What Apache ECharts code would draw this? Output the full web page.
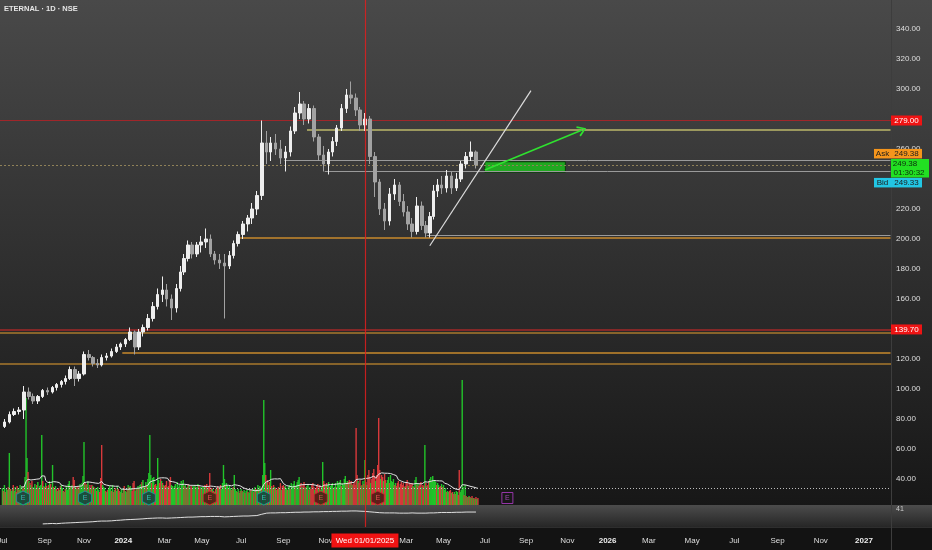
<!DOCTYPE html>
<html><head><meta charset="utf-8">
<script src="https://cdn.jsdelivr.net/npm/echarts@6/dist/echarts.min.js"></script>
<style>html,body{margin:0;padding:0;background:#141414;overflow:hidden}#c{width:932px;height:550px}</style>
</head><body><div id="c"></div>
<script>
// ---------------- DATA ----------------
const title = 'ETERNAL · 1D · NSE';
const firstDay = '2023-06-28';
const dayCount = 907;
const weekStart = '2023-07-03';
const holidays = ['2023-06-29','2023-08-15','2023-09-19','2023-10-02','2023-10-24','2023-11-14','2023-11-27','2023-12-25',
'2024-01-22','2024-01-26','2024-03-08','2024-03-25','2024-03-29','2024-04-11','2024-04-17','2024-05-01','2024-05-20','2024-06-17','2024-07-17','2024-08-15','2024-10-02','2024-11-15','2024-11-20','2024-12-25',
'2025-02-26','2025-03-14','2025-03-31','2025-04-10','2025-04-14','2025-04-18','2025-05-01','2025-08-15','2025-08-27','2025-10-02','2025-10-21','2025-10-22','2025-11-05','2025-12-25'];
const monthNames = ['Jan','Feb','Mar','Apr','May','Jun','Jul','Aug','Sep','Oct','Nov','Dec'];

// weekly OHLC from week of 2023-07-03
const wOpen = [75,78,83,85,86,98,95,92,95,99, 98,101,103,105,107,113,107,110,123,121, 117,116,121,122,125,128,130,133,138,128,
 138,141,147,155,163,166,160,154,167,178, 187,196,190,196,198,200,190,186,184,182, 189,197,203,210,214,220,229,264,258,264,
 260,254,258,272,284,290,280,287,268,256, 250,258,265,274,287,296,294,286,276,280, 255,238,220,212,230,236,225,218,210,205,
 222,209,204,215,232,236,234,242,234,240, 250,255,258];
const wHigh = [80,85,87,88,102,101,97,96,100,101, 102,104,106,109,115,115,112,125,126,122, 120,123,124,127,130,131,134,141,139,140,
 143,150,158,167,175,170,163,170,182,190, 199,198,198,202,207,203,192,190,190,192, 199,205,212,216,224,232,279,272,268,270,
 266,262,275,288,298,292,290,289,270,262, 260,268,276,290,300,305,297,288,284,282, 258,240,224,234,240,238,230,222,214,228,
 225,212,218,236,240,242,246,245,244,252, 258,265,259];
const wLow = [74,77,82,83,80,93,90,90,94,96, 97,99,101,103,106,102,105,109,119,115, 114,115,119,121,124,126,128,132,123,126,
 135,139,145,153,158,155,146,151,165,176, 185,187,188,191,194,188,183,180,147,180, 187,195,200,205,210,216,226,250,252,256,
 250,245,255,270,280,276,277,265,252,245, 243,255,262,272,284,290,282,272,272,250, 228,216,206,209,226,222,215,206,201,203,
 206,201,201,213,228,230,231,230,232,238, 247,252,247];
const wClose = [78,83,85,86,98,95,92,95,99,98, 101,103,105,107,113,107,110,123,121,117, 116,121,122,125,128,130,133,138,128,138,
 141,147,155,163,166,160,154,167,178,187, 196,190,196,198,200,190,186,184,182,189, 197,203,210,214,220,229,264,258,264,260,
 254,258,272,284,290,280,287,268,256,250, 258,265,274,287,296,294,286,276,280,255, 238,220,212,230,236,225,218,210,205,222,
 209,204,215,232,236,234,242,234,240,250, 255,258,249.38];

// daily volume (millions of shares) grouped by week; negative = down day
const volDays = [
[34,-28,40,-26,32],[30,-36,104,-32,28],[32,-40,28,36,-26],[-38,34,-30,40,28],[36,-32,-38,56,214],
[94,-66,48,-44,40],[-48,36,-34,42],[34,-40,46,-34,38],[40,140,-48,38,-36],[44,-38,34,-40,48],
[-42,36,80,-36,34],[38,-32,28,-34],[30,-38,40,34,-28],[26,-32,38,30],[42,48,-36,36,40],
[-56,-50,38,34,-36],[32,-38,42,36],[44,58,126,-44,40],[-42,48,36,-40,34],[-40,38,-36,32],
[34,-28,36,30,-26],[-54,-120,40,36],[34,-28,26,-30,32],[38,34,-28,40,-26],[30,-34,28,38,-32],
[-28,26,32,-24],[34,-38,28,26,-30],[40,-36,38,34,-28],[-44,-48,28,34,-32],[38,-34,40],
[42,-46,50,38,-36],[46,-40,52,64,140],[60,-44,54,56,-40],[-42,38,94,50,-44],[-52,48,-44,40,-38],
[-40,-48,36,-38],[-50,-56,40,38,34],[38,42,-34,46,36],[40,-34,48],[44,50,-38,40,-34],
[36,-42,40,34],[-38,-34,38,36],[40,-36,36,42,-38],[-34,36,-32,36],[36,-40,38,-42,34],
[-36,-64,30,-34,32],[-28,26,-32,34],[-38,-34,36,-40,32],[44,80,52,-40,44],[38,-32,40,34,-30],
[34,-36,60,32],[28,-26,32,24,-28],[32,-28,26,30,-24],[28,30,-26,24,30],[-30,28,32,-26],
[36,-32,30,40,-28],[38,34,-32,60,210],[84,-60,44,-50,40],[-46,70,-38,34],[-40,36,-34,30,-32],
[-36,34,-44,30,-38],[-40,-36,38,34,-30],[36,40,-32,44,38],[42,48,-36,40,46],[50,56,-40,-44,36],
[-40,-46,34,-36],[38,42,-30,36,-32],[-40,-44,-36,30,-34],[-38,-42,34,-40,30],[36,86,-48,-42,38],
[-44,40,46,-36,38],[40,44,-34,36],[44,-36,48,42],[46,50,-38,44,40],[52,58,-44,48,-46],
[-50,44,-48,40,-42],[-46,-40,-154,-60,48],[-44,-50,38,-40],[48,-42,90,-46,40],[-60,-70,-56,44,-52],
[-64,-72,-58,48,-60],[-80,-174,-70,52,-60],[-56,48,-62,-50,44],[50,56,-44,60,48],[46,52,-40,44,-38],
[-44,-48,36,-42,-46],[-40,-44,36,-38],[-46,-50,38,-44,-42],[-40,-44,38,-36],[50,56,-40,44,-38],
[-42,-46,36,-40,-38],[120,-44,38,-40],[-48,52,56,46],[58,50,48],[46,-40,44,40,-36],
[-38,42,-36,40],[30,34,-26,28,26],[-28,-30,24,-26,-22],[26,-22,28,26,-20],[-70,26,30,250,36],
[-20,40,-18,16,-16],[18,-16,14,-18,14],[-14,12,-16,12,-14]];

// lower indicator pane (weekly), starting at week 8
const indStartWeek = 8;
const indicator = [14,15,16,15,17,18,19,20,21,22,23,24,26, 27,27,28,30,31,33,34,35,36,37,39,40,41,
 41,40,41,42,43,44,45,45,46,47,47,48,48, 48,46,47,48,49,50,50,51,52,58,
 63,64,64,65,65,66,67,67,68,68,69,69,70,70, 71,71,72,72,73,73,72,71,
 69,67,65,64,64,64,63,63,63,64,63,63, 63,64,64,65,66,66,66,67,67,68,68,68];
const indLabel = '41';

// visible price-scale labels (280, 240, 140 are covered by tags)
const priceTicks = [40,60,80,100,120,160,180,200,220,260,300,320,340];

// crosshair & quotes
const crossDate = '2025-01-01';
const crossPrice = 279.00;
const alertPrice = 139.70;
const lastPrice = 249.38, askPrice = 249.38, bidPrice = 249.33;
const countdown = '01:30:32';

// drawings (prices)
const fullLevels = [137.5, 116.5];
const goldRayPrices = [273.1, 200.5, 124.2];
const goldRayStarts = ['2024-10-07','2024-06-28','2023-12-29'];
const grayRayPrices = [252.6, 244.9, 202.2];
const grayRayStarts = ['2024-09-03','2024-10-31','2025-04-03'];
const trendDates = ['2025-04-08','2025-09-08'];
const trendPrices = [195.5, 298.9];
const arrowDates = ['2025-07-01','2025-11-25'];
const arrowPrices = [246.0, 272.7];
const boxDates = ['2025-07-01','2025-10-30'];
const boxPrices = [251.5, 244.5];

// earnings events
const earnDates = ['2023-08-01','2023-11-02','2024-02-08','2024-05-14','2024-08-02','2024-10-25','2025-01-20','2025-08-01'];
const earnKind = ['beat','beat','beat','miss','beat','miss','miss','next'];

// ---------------- BUILD ----------------
const cats = [];
{
  const d = new Date(firstDay + 'T00:00:00Z');
  while (cats.length < dayCount) {
    const wd = d.getUTCDay(); const s = d.toISOString().slice(0,10);
    if (wd !== 0 && wd !== 6 && !(s < '2026-01-01' && holidays.includes(s))) cats.push(s);
    d.setUTCDate(d.getUTCDate() + 1);
  }
}
const idxOf = s => cats.indexOf(s);
const base = Date.parse(weekStart);
const weekIdx = [];
cats.forEach((s, i) => {
  const w = Math.floor((Date.parse(s) - base) / (7 * 864e5));
  if (w >= 0 && w < wOpen.length) (weekIdx[w] = weekIdx[w] || []).push(i);
});
const weekCenter = w => weekIdx[w][Math.floor((weekIdx[w].length - 1) / 2)];

const candleData = wOpen.map((o, w) => [weekCenter(w), o, wClose[w], wLow[w], wHigh[w]]);

const GREEN = '#22c42a', RED = '#d8393b';
const volData = [], volSeq = [];
volDays.forEach((arr, w) => {
  arr.forEach((v, k) => {
    const i = weekIdx[w][k];
    if (i === undefined) return;
    volData.push({ value: [i, Math.abs(v)], itemStyle: { color: v > 0 ? GREEN : RED } });
    volSeq.push([i, Math.abs(v)]);
  });
});
const maData = [];
for (let k = 19; k < volSeq.length; k++) {
  let s = 0; for (let j = k - 19; j <= k; j++) s += volSeq[j][1];
  maData.push([volSeq[k][0], s / 20]);
}
const maLast = maData[maData.length - 1][1];

const indData = indicator.map((v, k) => [weekCenter(indStartWeek + k), v]);

const FONT = 'Liberation Sans';
const earnData = earnDates.map((d, k) => {
  const kind = earnKind[k];
  const sty = kind === 'beat' ? { fill: '#0f3d40', stroke: '#1f9ea3', txt: '#3fd0d0' }
            : kind === 'miss' ? { fill: '#4a1212', stroke: '#c8302f', txt: '#f06060' }
            : { fill: 'rgba(0,0,0,0)', stroke: '#b43ccc', txt: '#c050d8' };
  return {
    value: [idxOf(d), 14],
    symbol: kind === 'next' ? 'rect' : 'path://M6,0 L12,3 L12,10 L6,13 L0,10 L0,3 Z',
    symbolSize: kind === 'next' ? [11, 11] : [13, 14],
    itemStyle: { color: sty.fill, borderColor: sty.stroke, borderWidth: 1 },
    label: { show: true, formatter: 'E', color: sty.txt, fontSize: 7, fontFamily: FONT }
  };
});

const lastCat = cats[cats.length - 1];
const mlData = [
  { yAxis: crossPrice, lineStyle: { color: '#a0262a', width: 1, type: 'solid' } },
  { yAxis: alertPrice, lineStyle: { color: '#a32828', width: 1.5, type: 'solid' } },
  ...fullLevels.map(p => ({ yAxis: p, lineStyle: { color: '#a8792c', width: 1.5, type: 'solid' } })),
  { yAxis: lastPrice, lineStyle: { color: '#8f8158', width: 1, type: [2, 2] } },
  ...goldRayPrices.map((p, k) => {
    const c = k === 0 ? '#bdb86a' : '#c98a2c';
    return [{ coord: [goldRayStarts[k], p], lineStyle: { color: c, width: 1.5, type: 'solid' } }, { coord: [lastCat, p] }];
  }),
  ...grayRayPrices.map((p, k) => [{ coord: [grayRayStarts[k], p], lineStyle: { color: '#9a9a9a', width: 1, type: 'solid' } }, { coord: [lastCat, p] }]),
  [{ coord: [trendDates[0], trendPrices[0]], lineStyle: { color: '#dcdcdc', width: 1.2, type: 'solid' } }, { coord: [trendDates[1], trendPrices[1]] }],
  [{ coord: [arrowDates[0], arrowPrices[0]], lineStyle: { color: '#2fe22f', width: 1.6, type: 'solid' } },
   { coord: [arrowDates[1], arrowPrices[1]], symbol: 'path://M5,0 L10,9 L8.6,10 L5,3 L1.4,10 L0,9 Z', symbolSize: [11, 9] }]
];

const axisTxt = '#dedede';
const gridBase = { left: 0, right: 41, outerBoundsMode: 'none', containLabel: false };
const xBase = { type: 'category', data: cats, boundaryGap: true, axisLine: { show: false }, axisTick: { show: false }, splitLine: { show: false } };

const showLbl = cats.map((s, i) => i > 0 && s.slice(5, 7) !== cats[i - 1].slice(5, 7) && (+s.slice(5, 7)) % 2 === 1);

const option = {
  animation: false,
  grid: [
    Object.assign({ top: 0, height: 527 }, gridBase),
    Object.assign({ top: 380, height: 125 }, gridBase),
    Object.assign({ top: 505, height: 22 }, gridBase)
  ],
  xAxis: [
    Object.assign({ gridIndex: 0, axisLabel: { show: false } }, xBase),
    Object.assign({ gridIndex: 1, axisLabel: { show: false } }, xBase),
    Object.assign({ gridIndex: 2, axisLabel: {
      show: true, interval: (i) => showLbl[i], margin: 10, color: axisTxt, fontSize: 8, fontFamily: FONT,
      formatter: (v) => { const m = +v.slice(5, 7); return m === 1 ? '{y|' + v.slice(0, 4) + '}' : monthNames[m - 1]; },
      rich: { y: { fontWeight: 'bold', fontSize: 8, color: '#ededed', fontFamily: FONT } }
    } }, xBase)
  ],
  yAxis: [
    { gridIndex: 0, type: 'value', position: 'right', min: 8, max: 359.3333, splitLine: { show: false },
      axisLine: { show: false }, axisTick: { show: false },
      axisLabel: { customValues: priceTicks, formatter: v => v.toFixed(2), color: axisTxt, fontSize: 8, fontFamily: FONT, margin: 5 } },
    { gridIndex: 1, type: 'value', min: 0, max: 250, show: false },
    { gridIndex: 2, type: 'value', min: 0, max: 100, show: false }
  ],
  series: [
    { type: 'candlestick', xAxisIndex: 0, yAxisIndex: 0, data: candleData, encode: { x: 0, y: [1, 2, 3, 4] },
      barWidth: 3, z: 4,
      itemStyle: { color: '#eeeeee', color0: '#a2a2a2', borderColor: '#eeeeee', borderColor0: '#a2a2a2', borderWidth: 1 },
      markLine: { silent: true, symbol: 'none', label: { show: false }, data: mlData, z: 3 },
      markArea: { silent: true, data: [[{ coord: [boxDates[0], boxPrices[0]] }, { coord: [boxDates[1], boxPrices[1]] }]],
        itemStyle: { color: '#21a821', borderColor: '#0c3a0c', borderWidth: 1 } } },
    { type: 'bar', xAxisIndex: 1, yAxisIndex: 1, data: volData, barWidth: 1.4, z: 2 },
    { type: 'line', xAxisIndex: 1, yAxisIndex: 1, data: maData, showSymbol: false, z: 3,
      lineStyle: { color: '#e4e4e4', width: 1 },
      markLine: { silent: true, symbol: 'none', label: { show: false },
        data: [{ yAxis: maLast, lineStyle: { color: '#bdbdbd', width: 1, type: [1, 2] } }] } },
    { type: 'scatter', xAxisIndex: 1, yAxisIndex: 1, data: earnData, z: 5 },
    { type: 'line', xAxisIndex: 2, yAxisIndex: 2, data: indData, showSymbol: false, z: 3,
      lineStyle: { color: '#e0e0e0', width: 1 } }
  ]
};

const chart = echarts.init(document.getElementById('c'), null, { width: 932, height: 550 });
chart.setOption(option);

// ---------- overlays (positions from the library's scales) ----------
const yP = p => chart.convertToPixel({ yAxisIndex: 0 }, p);
const xP = i => chart.convertToPixel({ xAxisIndex: 0 }, i);
const g = [];
const lin = (c1, c2) => ({ type: 'linear', x: 0, y: 0, x2: 0, y2: 1, colorStops: [{ offset: 0, color: c1 }, { offset: 1, color: c2 }] });
g.push({ type: 'rect', z: -10, silent: true, shape: { x: 0, y: 0, width: 932, height: 527 }, style: { fill: lin('#494949', '#151515') } });
g.push({ type: 'rect', z: -9, silent: true, shape: { x: 0, y: 505, width: 932, height: 22 }, style: { fill: lin('#4c4c4c', '#262626') } });
g.push({ type: 'rect', z: -9, silent: true, shape: { x: 0, y: 527, width: 932, height: 23 }, style: { fill: '#131313' } });
g.push({ type: 'line', z: -8, silent: true, shape: { x1: 0, y1: 527.5, x2: 932, y2: 527.5 }, style: { stroke: '#2e2e2e', lineWidth: 1 } });
g.push({ type: 'line', z: -8, silent: true, shape: { x1: 891.5, y1: 0, x2: 891.5, y2: 550 }, style: { stroke: '#3d3d3d', lineWidth: 1 } });
g.push({ type: 'text', z: 50, style: { text: title, x: 4, y: 9, fill: '#e6e6e6', font: 'bold 7.5px ' + FONT, verticalAlign: 'middle' } });

const cx = xP(idxOf(crossDate));
const cxs = Math.round(cx) + 0.5;
g.push({ type: 'line', z: 40, silent: true, shape: { x1: cxs, y1: 0, x2: cxs, y2: 527 }, style: { stroke: '#e01e1e', lineWidth: 1.2, opacity: 0.85 } });

function box(x, y, w, h, fill, text, color) {
  g.push({ type: 'rect', z: 60, shape: { x, y, width: w, height: h }, style: { fill } });
  if (text) g.push({ type: 'text', z: 61, style: { text, x: x + w / 2, y: y + h / 2 + 0.5, fill: color, font: '8px ' + FONT, align: 'center', verticalAlign: 'middle' } });
}
let y = yP(crossPrice); box(891, y - 5, 31, 10, '#f01313', crossPrice.toFixed(2), '#ffffff');
y = yP(alertPrice); box(891, y - 5, 31, 10, '#ee1414', alertPrice.toFixed(2), '#ffffff');
const yl = yP(lastPrice);
const gTop = yl - 6;
box(874, gTop - 10, 17, 9.5, '#f5951c', 'Ask', '#1b1b1b');
box(891, gTop - 10, 31, 9.5, '#f5951c', askPrice.toFixed(2), '#1b1b1b');
g.push({ type: 'rect', z: 60, shape: { x: 891, y: gTop, width: 38, height: 18.5 }, style: { fill: '#22e022' } });
g.push({ type: 'text', z: 61, style: { text: lastPrice.toFixed(2), x: 905, y: gTop + 5, fill: '#0d2a0d', font: '8px ' + FONT, align: 'center', verticalAlign: 'middle' } });
g.push({ type: 'text', z: 61, style: { text: countdown, x: 909, y: gTop + 13.5, fill: '#0d2a0d', font: '8px ' + FONT, align: 'center', verticalAlign: 'middle' } });
box(874, gTop + 19, 17, 9.5, '#22c6e4', 'Bid', '#1b1b1b');
box(891, gTop + 19, 31, 9.5, '#22c6e4', bidPrice.toFixed(2), '#1b1b1b');

const cd = new Date(crossDate + 'T00:00:00Z');
const dayNames = ['Sun','Mon','Tue','Wed','Thu','Fri','Sat'];
const crossText = dayNames[cd.getUTCDay()] + ' ' + crossDate.slice(8, 10) + '/' + crossDate.slice(5, 7) + '/' + crossDate.slice(0, 4);
box(cx - 33.5, 533.5, 67, 14, '#f01313', crossText, '#ffffff');
g.push({ type: 'text', z: 50, style: { text: indLabel, x: 896, y: 509, fill: '#cfcfcf', font: '7px ' + FONT, verticalAlign: 'middle' } });

chart.setOption({ graphic: g });
</script>
</body></html>
